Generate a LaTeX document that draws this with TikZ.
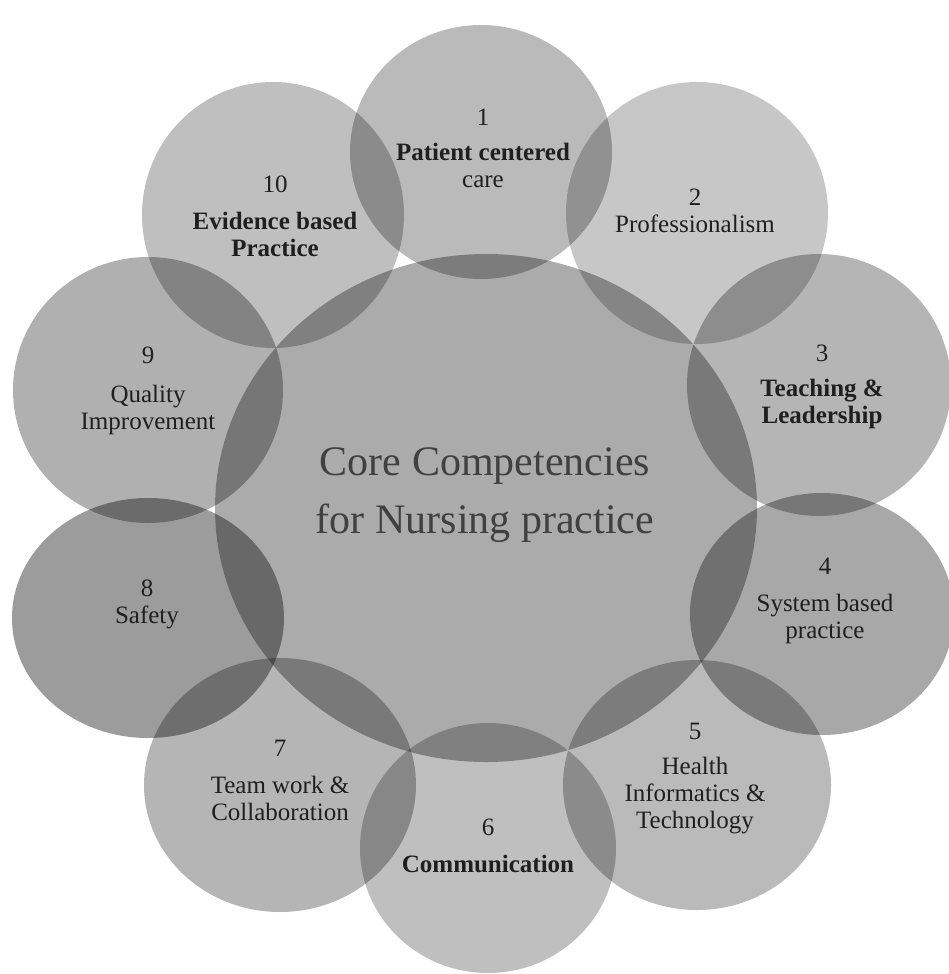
\documentclass[tikz,border=0pt]{standalone}
\usepackage{fontspec}
\setmainfont{Liberation Serif}
\usetikzlibrary{shapes.geometric}
\begin{document}
\begin{tikzpicture}[x=1pt,y=-1pt,
  disc/.style={ellipse,draw=none,fill=black,inner sep=0pt},
  lbl/.style={align=center,text=black!88,font=\fontsize{25}{27}\selectfont,inner sep=0pt},
  ttl/.style={align=center,text=black!75,font=\fontsize{42}{58}\selectfont,inner sep=0pt}]
\fill[white] (0,0) rectangle (949,974);
\useasboundingbox (0,0) rectangle (949,974);
% central circle
\node[disc,fill opacity=0.33,minimum width=542pt,minimum height=508pt] (core) at (486,508) {};
% outer circles
\node[disc,fill opacity=0.27,minimum width=262pt,minimum height=254pt] (c1) at (481,152) {};
\node[disc,fill opacity=0.22,minimum width=262pt,minimum height=262pt] (c2) at (697,213) {};
\node[disc,fill opacity=0.29,minimum width=264pt,minimum height=262pt] (c3) at (819,385) {};
\node[disc,fill opacity=0.34,minimum width=264pt,minimum height=242pt] (c4) at (822,614) {};
\node[disc,fill opacity=0.27,minimum width=268pt,minimum height=250pt] (c5) at (697,785) {};
\node[disc,fill opacity=0.25,minimum width=256pt,minimum height=250pt] (c6) at (488,848) {};
\node[disc,fill opacity=0.29,minimum width=272pt,minimum height=254pt] (c7) at (280,785) {};
\node[disc,fill opacity=0.39,minimum width=272pt,minimum height=240pt] (c8) at (148,618) {};
\node[disc,fill opacity=0.31,minimum width=270pt,minimum height=266pt] (c9) at (148,390) {};
\node[disc,fill opacity=0.25,minimum width=262pt,minimum height=266pt] (c10) at (273,215) {};
% texts
\node[ttl] (title) at (485,495) {Core Competencies\\for Nursing practice};
\node[lbl] (t1) at (483,148) {1\\[8pt]\textbf{Patient centered}\\care};
\node[lbl] (t2) at (695,211) {2\\Professionalism};
\node[lbl] (t3) at (822,387) {3\\[8pt]\textbf{Teaching \&}\\\textbf{Leadership}};
\node[lbl] (t4) at (825,601) {4\\[10pt]System based\\practice};
\node[lbl] (t5) at (695,779) {5\\[8pt]Health\\Informatics \&\\Technology};
\node[lbl] (t6) at (488,846) {6\\[10pt]\textbf{Communication}};
\node[lbl] (t7) at (280,780) {7\\[10pt]Team work \&\\Collaboration};
\node[lbl] (t8) at (147,604) {8\\Safety};
\node[lbl] (t9) at (148,391) {9\\[12pt]Quality\\Improvement};
\node[lbl] (t10) at (275,216) {10\\[10pt]\textbf{Evidence based}\\\textbf{Practice}};
\end{tikzpicture}
\end{document}
